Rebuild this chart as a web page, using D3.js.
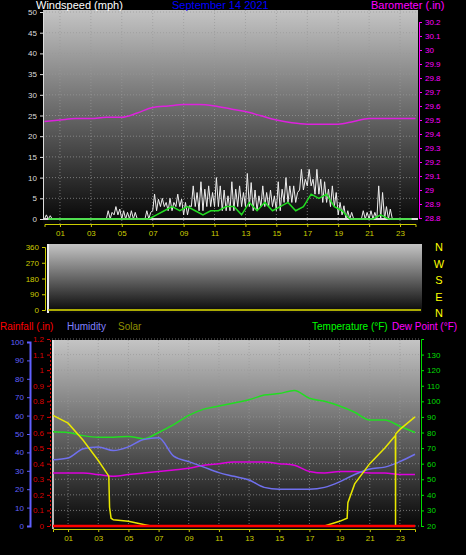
<!DOCTYPE html>
<html><head><meta charset="utf-8">
<script src="https://cdn.jsdelivr.net/npm/d3@7"></script>
<style>body{margin:0;background:#000}svg{display:block;font-family:"Liberation Sans",Arial,sans-serif}</style>
</head><body><div id="chart"></div>
<script>
// data, hourly (0..24) unless noted
var hours = d3.range(0, 25);
var halfHours = d3.range(0, 24, 0.5);
var xTicks = [1, 3, 5, 7, 9, 11, 13, 15, 17, 19, 21, 23];
var gust = [1,0, 0,0, 0,0, 0,0, 2,3, 2,2, 0,2, 6,5, 5,6, 4,8, 9,8, 10,7, 9,8, 11,7, 8,7, 9,10, 8,12, 12,12, 9,8, 4,2, 0,2, 2,8, 3,0, 0,0];
var gustLow = [0,0, 0,0, 0,0, 0,0, 0,1, 0,0, 0,0, 2,3, 2,3, 1,3, 2,3, 3,2, 2,3, 3,2, 3,3, 2,4, 4,7, 8,6, 4,3, 1,0, 0,0, 0,0, 0,0, 0,0];
var avgWind = [0,0, 0,0, 0,0, 0,0, 0,0, 0,0, 0,0, 1,2, 3,2, 3,2, 1,2, 2,3, 3,1, 4,2, 4,2, 3,4, 2,3, 6,5, 6,3, 2,0, 0,0, 0,1, 0,0, 0,0];
var baro = [29.49,29.50,29.51,29.51,29.52,29.52,29.55,29.59,29.60,29.61,29.61,29.60,29.58,29.56,29.53,29.50,29.48,29.47,29.47,29.47,29.49,29.51,29.51,29.51,29.51];
var temp = [80.5,80,78,77,77,77.5,76,80,85,91,95,97,99,101,104,105,107,102,100,97,93,88,88,84,80];
var dew = [54,54,54,53,52,53,54,55,56,57,59,60,61,61,61,60,59,55,54,55,55,54,54,53,53];
var humidity = [36,37,42,43,41,43,47,48,38,35,32,29,27,25,21,20,20,20,21,24,28,31,32,35,39];
var solarHours = [0,1,2,3,3.7,3.75,3.85,4,5,6,6.5,18,19,19.5,19.55,20,21,22,22.7,22.71,22.72,23,24];
var solar = [710,660,550,420,320,120,50,40,30,10,0,0,30,50,150,270,400,500,580,0,590,620,700];
var rainfall = [0,0];
var dirTicks = [0, 90, 180, 270, 360];
var dirLabels = ["N", "E", "S", "W", "N"];

var width = 466, height = 555;
var svg = d3.select("#chart").append("svg").attr("width", width).attr("height", height);
var defs = svg.append("defs");
var grad = defs.append("linearGradient").attr("id", "bg").attr("x1", 0).attr("y1", 0).attr("x2", 0).attr("y2", 1);
grad.append("stop").attr("offset", "0%").attr("stop-color", "#c4c4c4");
grad.append("stop").attr("offset", "100%").attr("stop-color", "#050505");

function panel(x0, x1, y0, y1) {
    svg.append("rect").attr("x", x0).attr("y", y0).attr("width", x1 - x0).attr("height", y1 - y0).attr("fill", "url(#bg)");
}
function grid(x, y, xt, yt, x0, x1, y0, y1) {
    var g = svg.append("g").attr("stroke", "#9a9a9a").attr("stroke-dasharray", "1,2").attr("stroke-width", 0.7);
    xt.forEach(function (t) { g.append("line").attr("x1", x(t)).attr("x2", x(t)).attr("y1", y0).attr("y2", y1); });
    yt.forEach(function (t) { g.append("line").attr("x1", x0).attr("x2", x1).attr("y1", y(t)).attr("y2", y(t)); });
}
function style(g, col) {
    g.select(".domain").attr("stroke", col);
    g.selectAll(".tick line").attr("stroke", col);
    g.selectAll("text").attr("fill", col).attr("font-size", 8);
}

// ---------- top chart: wind + barometer
var tx = d3.scaleLinear().domain([0, 24]).range([44.5, 415.5]);
var ty = d3.scaleLinear().domain([0, 50]).range([219, 12]);
var by = d3.scaleLinear().domain([28.8, 30.2]).range([218, 22]);
panel(43, 418, 10, 224);
grid(tx, ty, xTicks, d3.range(0, 51, 5), 43, 418, 10, 224);

// gust: zig-zag between high and low in each half hour
var gustPts = [];
halfHours.forEach(function (h, i) {
    gustPts.push([h, gustLow[i]], [h + 0.12, gust[i]], [h + 0.25, gustLow[i]], [h + 0.37, gust[i] * 0.8]);
});
svg.append("path").datum(gustPts).attr("fill", "none").attr("stroke", "#eeeeee").attr("stroke-width", 1)
    .attr("d", d3.line().x(function (d) { return tx(d[0]); }).y(function (d) { return ty(d[1]); }));
svg.append("line").attr("x1", 43).attr("x2", 418).attr("y1", ty(0)).attr("y2", ty(0)).attr("stroke", "#ddd").attr("stroke-width", 2);
svg.append("path").datum(halfHours).attr("fill", "none").attr("stroke", "#22dd22").attr("stroke-width", 1.5)
    .attr("d", d3.line().x(function (d) { return tx(d + 0.25); }).y(function (d, i) { return ty(avgWind[i]); }));
svg.append("path").datum(hours).attr("fill", "none").attr("stroke", "#dd22dd").attr("stroke-width", 1.5)
    .attr("d", d3.line().x(function (d) { return tx(d); }).y(function (d, i) { return by(baro[i]); }).curve(d3.curveMonotoneX));

style(svg.append("g").attr("transform", "translate(43,0)").call(d3.axisLeft(ty).tickValues(d3.range(0, 51, 5)).tickSize(3)), "#dddddd");
style(svg.append("g").attr("transform", "translate(419,0)").call(d3.axisRight(by).tickValues(d3.range(28.8, 30.21, 0.1)).tickFormat(d3.format("~g")).tickSize(3)), "#ff00ff");
style(svg.append("g").attr("transform", "translate(0,224)").call(d3.axisBottom(tx).tickValues(xTicks).tickFormat(d3.format("02d")).tickSize(3)), "#cccc00");
svg.append("text").attr("x", 36).attr("y", 9).attr("fill", "#fff").attr("font-size", 11).text("Windspeed (mph)");
svg.append("text").attr("x", 172).attr("y", 9).attr("fill", "#0000ff").attr("font-size", 11).text("September 14 2021");
svg.append("text").attr("x", 371).attr("y", 9).attr("fill", "#ff00ff").attr("font-size", 11).text("Barometer (.in)");

// ---------- wind direction
var dy = d3.scaleLinear().domain([0, 360]).range([310, 247]);
panel(47, 422, 244, 313);
svg.append("line").attr("x1", 48).attr("x2", 48).attr("y1", 244).attr("y2", 313).attr("stroke", "#eee").attr("stroke-width", 2);
svg.append("line").attr("x1", 48).attr("x2", 421).attr("y1", dy(0)).attr("y2", dy(0)).attr("stroke", "#e0e000").attr("stroke-width", 1.5);
style(svg.append("g").attr("transform", "translate(45,0)").call(d3.axisLeft(dy).tickValues(dirTicks).tickSize(3)), "#cccc00");
svg.append("g").selectAll("text").data(dirTicks).enter().append("text")
    .attr("x", 439).attr("y", function (d, i) { return 251 + (4 - i) * 16.5; })
    .attr("fill", "#ffff00").attr("font-size", 11).attr("text-anchor", "middle")
    .text(function (d, i) { return dirLabels[i]; });

// ---------- bottom chart
var lx = d3.scaleLinear().domain([0, 24]).range([53, 415]);
var hy = d3.scaleLinear().domain([0, 100]).range([526, 342]);
var ry = d3.scaleLinear().domain([0, 1.2]).range([526, 339]);
var sy = d3.scaleLinear().domain([0, 1200]).range([526, 339]);
var fy = d3.scaleLinear().domain([20, 140]).range([526, 339]);
panel(52, 420, 340, 529);
grid(lx, fy, xTicks, d3.range(20, 141, 10), 52, 420, 340, 529);
svg.append("line").attr("x1", 53).attr("x2", 53).attr("y1", 340).attr("y2", 529).attr("stroke", "#eee").attr("stroke-width", 1.5);

svg.append("text").attr("x", 0).attr("y", 330).attr("fill", "#ff0000").attr("font-size", 10).text("Rainfall (.in)");
svg.append("text").attr("x", 67).attr("y", 330).attr("fill", "#8080ff").attr("font-size", 10).text("Humidity");
svg.append("text").attr("x", 118).attr("y", 330).attr("fill", "#909000").attr("font-size", 10).text("Solar");
svg.append("text").attr("x", 312).attr("y", 330).attr("fill", "#00ff00").attr("font-size", 10).text("Temperature (°F)");
svg.append("text").attr("x", 392).attr("y", 330).attr("fill", "#ff00ff").attr("font-size", 10).text("Dew Point (°F)");

function hourLine(arr, yScale, col, w) {
    svg.append("path").datum(hours).attr("fill", "none").attr("stroke", col).attr("stroke-width", w)
        .attr("d", d3.line().x(function (d) { return lx(d); }).y(function (d, i) { return yScale(arr[i]); }).curve(d3.curveMonotoneX));
}
hourLine(temp, fy, "#22dd22", 1.5);
hourLine(dew, fy, "#dd00dd", 1.5);
hourLine(humidity, hy, "#7070ee", 1.5);
svg.append("path").datum(solarHours).attr("fill", "none").attr("stroke", "#e8e800").attr("stroke-width", 1.5)
    .attr("d", d3.line().x(function (d) { return lx(d); }).y(function (d, i) { return sy(solar[i]); }));
svg.append("line").attr("x1", lx(0)).attr("x2", lx(24)).attr("y1", ry(rainfall[0])).attr("y2", ry(rainfall[1])).attr("stroke", "#ff0000").attr("stroke-width", 2.5);

var ha = svg.append("g").attr("transform", "translate(30,0)").call(d3.axisLeft(hy).tickValues(d3.range(0, 101, 10)).tickSize(3));
style(ha, "#6060ff"); ha.select(".domain").attr("stroke-width", 2);
var ra = svg.append("g").attr("transform", "translate(50,0)").call(d3.axisLeft(ry).tickValues(d3.range(0, 1.21, 0.1)).tickFormat(d3.format("~g")).tickSize(3));
style(ra, "#dd0000"); ra.select(".domain").attr("stroke-dasharray", "2,2");
style(svg.append("g").attr("transform", "translate(421,0)").call(d3.axisRight(fy).tickValues(d3.range(20, 131, 10)).tickSize(3)), "#00dd00");
style(svg.append("g").attr("transform", "translate(0,529)").call(d3.axisBottom(lx).tickValues(xTicks).tickFormat(d3.format("02d")).tickSize(3)), "#cccc00");
</script></body></html>
